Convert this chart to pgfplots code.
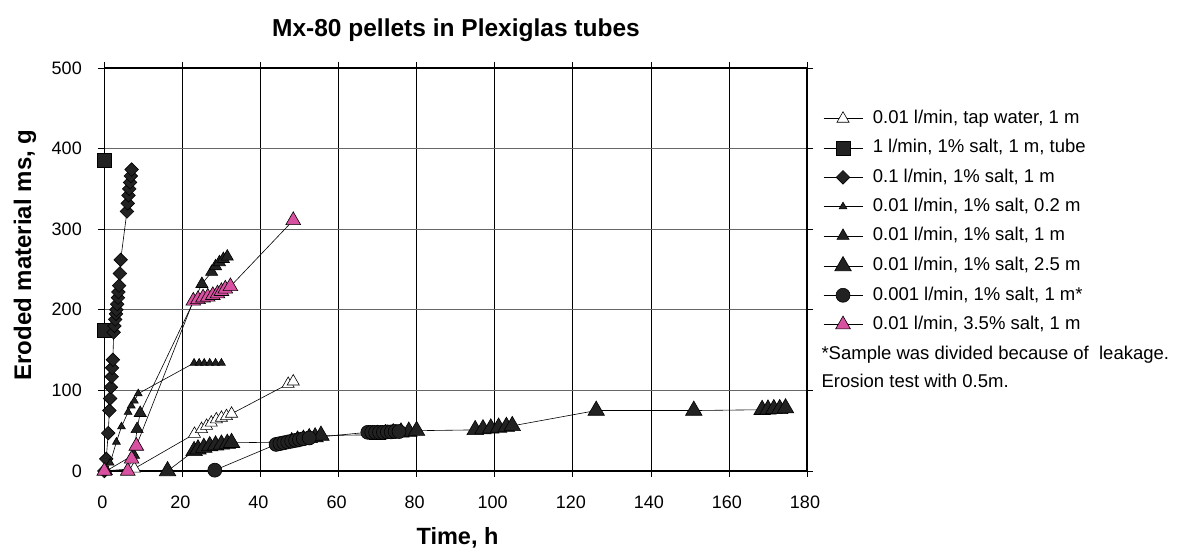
\documentclass[border=0pt]{standalone}
\usepackage{fontspec}
\setmainfont{Liberation Sans}
\usepackage{pgfplots}
\pgfplotsset{compat=1.18}
\definecolor{pinktri}{RGB}{216,80,160}
\definecolor{darkfill}{RGB}{34,34,34}

\begin{document}
\begin{tikzpicture}[x=1pt,y=1pt]
\useasboundingbox (0,0) rectangle (1178,553);
\begin{axis}[
  at={(104.3pt,82pt)}, anchor=south west,
  scale only axis, width=702.7pt, height=403pt,
  xmin=0, xmax=180, ymin=0, ymax=500,
  xtick distance=20, ytick distance=100,
  grid=major, major grid style={black, line width=0.6pt},
  y grid style={black!60, line width=0.8pt},
  axis line style={line width=1.4pt},
  tick align=outside, major tick length=6pt,
  tick style={black, line width=0.6pt},
  ticklabel style={font=\fontsize{18}{20}\selectfont},
  xticklabel style={yshift=-15pt, xshift=-2pt},
  yticklabel style={xshift=-13pt},
  /pgf/number format/assume math mode=true,
  legend cell align=left,
  legend style={at={(1.0228,0.8963)}, anchor=north west, draw=none, fill=none,
    inner sep=0pt, row sep=11.8pt, column sep=0pt,
    font=\fontsize{18.5}{20}\selectfont,
    nodes={inner sep=0pt, text height=13.5pt, text depth=4pt}},
  legend image code/.code={\draw[mark repeat=2,mark phase=2] plot coordinates {(0pt,0pt)(19.5pt,0pt)(39pt,0pt)}; \path (49pt,0pt);},
  every axis plot/.append style={line width=0.6pt, black},
]
% tap water
\addplot[mark=triangle*, mark size=7pt, mark options={fill=white, draw=black}] coordinates {
(0,0)(7.7,3)(23.1,46)(24.9,52)(26.2,56)(27.4,60)(28.7,64)(30,66)(31.3,68)(32.6,71)(47.1,108)(48.4,111)};
\addlegendentry{0.01 l/min, tap water, 1 m}
% 1 l/min tube
\addplot[mark=square*, mark size=7pt, mark options={fill=darkfill, draw=black}] coordinates {
(0,175)(0,385)};
\addlegendentry{1 l/min, 1\% salt, 1 m, tube}
% 0.1 l/min
\addplot[mark=square*, mark size=4.8pt, mark options={fill=darkfill, draw=black, rotate=45}] coordinates {
(0,0)(0.5,15)(1,47)(1.3,75)(1.5,90)(1.7,104)(1.9,117)(2.0,128)(2.2,138)(2.4,172)(2.6,180)(2.8,188)(3.0,195)(3.1,200)(3.3,207)(3.5,215)(3.6,222)(3.8,230)(4.0,245)(4.2,262)(5.8,322)(6.0,332)(6.2,342)(6.4,350)(6.6,358)(6.8,366)(7.0,374)};
\addlegendentry{0.1 l/min, 1\% salt, 1 m}
% 0.2 m
\addplot[mark=triangle*, mark size=4.5pt, mark options={fill=darkfill, draw=black}] coordinates {
(0.5,0)(1.5,10)(3.1,36)(4.4,55)(6.1,73)(6.9,81)(7.7,87)(8.7,96)(23,134)(24.3,134)(25.6,134)(27,134)(28.5,134)(30,134)};
\addlegendentry{0.01 l/min, 1\% salt, 0.2 m}
% 1 m
\addplot[mark=triangle*, mark size=7pt, mark options={fill=darkfill, draw=black}] coordinates {
(0.5,0)(7.5,20)(8.4,52)(9.2,72)(25,232)(27.5,247)(28.5,254)(29.5,259)(30.5,263)(31.5,266)};
\addlegendentry{0.01 l/min, 1\% salt, 1 m}
% 2.5 m
\addplot[mark=triangle*, mark size=9.5pt, mark options={fill=darkfill, draw=black}] coordinates {
(16.2,0)(23,25)(24,27)(25.5,29)(27,31)(28.5,32)(30,33)(31.5,34)(32.6,35)(48,36)(49.5,38)(51,39)(52.5,41)(54,42)(55.5,44)(70,45)(72,46)(74,47)(76,48)(78,49)(80,50)(95,51)(97,52)(99,53)(101,54)(103,55)(104.5,56)(126,75)(151,75)(168.5,76)(170,76.5)(171.5,77)(173,77)(174.5,78)};
\addlegendentry{0.01 l/min, 1\% salt, 2.5 m}
% 0.001 l/min
\addplot[mark=*, mark size=7pt, mark options={fill=darkfill, draw=black}] coordinates {
(28.3,1)(44,33)(45,34)(46,35)(47,36)(48,37)(49,38)(50,39)(51,40)(52.5,41)(67.5,48)(68.5,48)(69.5,48)(70.5,48)(71.5,48)(72.5,48.5)(73.5,48.5)(74.5,49)(75.5,49)};
\addlegendentry{0.001 l/min, 1\% salt, 1 m*}
% 3.5% salt
\addplot[mark=triangle*, mark size=8.5pt, mark options={fill=pinktri, draw=black}] coordinates {
(0,0)(6,0)(7,15)(8.2,31)(22.8,211)(24,213)(25.3,215)(26.5,216)(27.8,218)(29,220)(30,223)(31,226)(32.3,229)(48.4,311)};
\addlegendentry{0.01 l/min, 3.5\% salt, 1 m}
\end{axis}
\node[anchor=base, font=\bfseries\fontsize{24.5}{28}\selectfont] at (456,516) {Mx-80 pellets in Plexiglas tubes};
\node[anchor=base, font=\bfseries\fontsize{23.5}{26}\selectfont] at (457.5,8) {Time, h};
\node[anchor=base, rotate=90, font=\bfseries\fontsize{24}{26}\selectfont] at (31,298) {Eroded material ms, g};
\node[anchor=base west, font=\fontsize{18.5}{20}\selectfont] at (818,193) {*Sample was divided because of\ \ leakage.};
\node[anchor=base west, font=\fontsize{18.5}{20}\selectfont] at (818,165) {Erosion test with 0.5m.};
\end{tikzpicture}
\end{document}
